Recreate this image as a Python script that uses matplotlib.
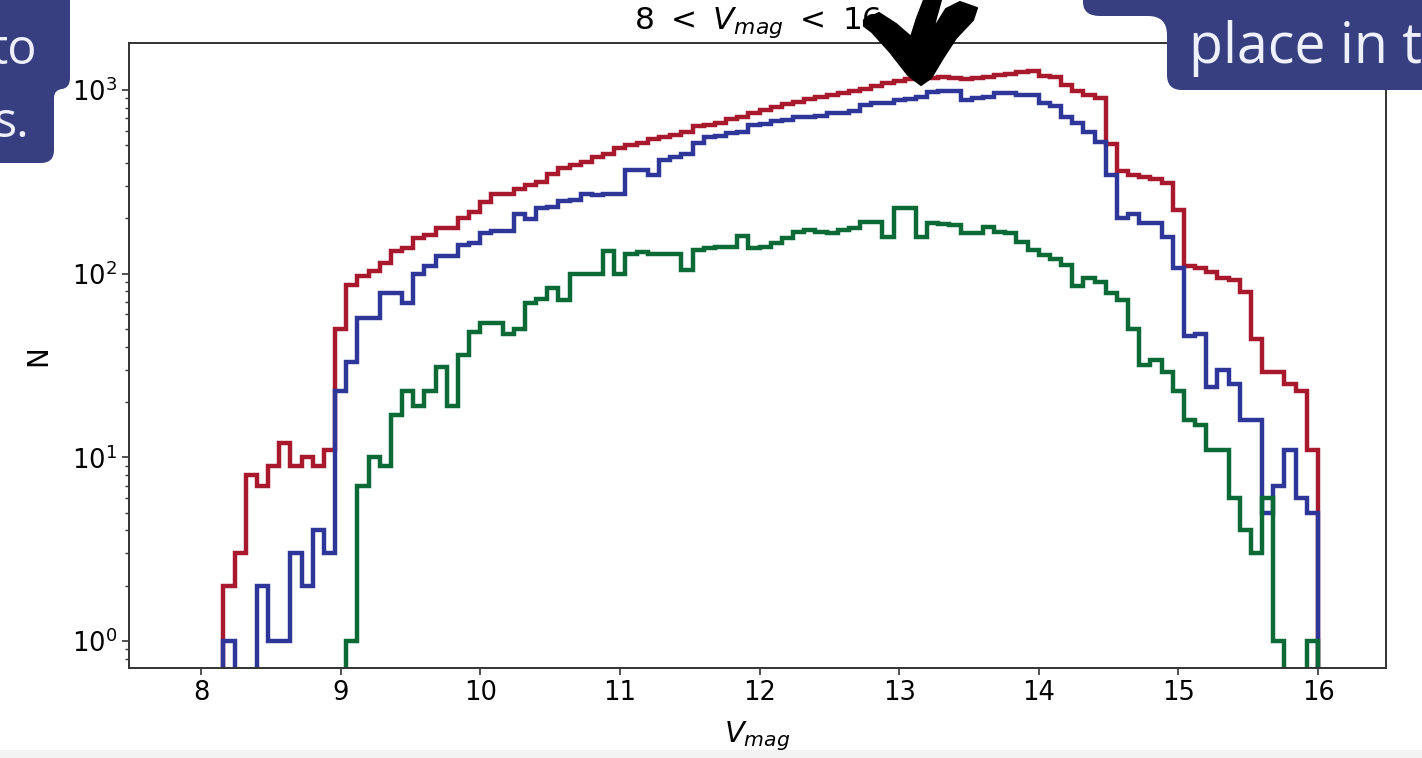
import numpy as np
import matplotlib
matplotlib.use('Agg')
import matplotlib.pyplot as plt
from matplotlib.path import Path
from matplotlib.patches import PathPatch, Polygon, Rectangle

# ---------------- data ----------------
bin_start = 8.0
bin_width = 0.08
n_bins = 100

n_red = [0, 0, 2, 3, 8, 7, 9, 12, 9, 10,
         9, 11, 50, 87, 97, 103, 114, 132, 138, 156,
         162, 176, 178, 201, 216, 245, 272, 270, 290, 305,
         317, 348, 374, 389, 404, 433, 450, 484, 501, 513,
         540, 552, 569, 589, 633, 645, 663, 692, 714, 748,
         778, 805, 838, 860, 890, 916, 940, 962, 986, 1013,
         1046, 1086, 1123, 1142, 1157, 1157, 1181, 1157, 1142, 1157,
         1181, 1206, 1222, 1257, 1273, 1191, 1181, 1060, 990, 935,
         905, 505, 362, 345, 337, 329, 313, 222, 110, 107,
         102, 95, 92, 79, 44, 29, 29, 25, 23, 11]

n_blue = [0, 0, 1, 0, 0, 2, 1, 1, 3, 2,
          4, 3, 23, 33, 57, 57, 78, 78, 69, 99,
          110, 125, 124, 143, 147, 166, 170, 170, 211, 198,
          227, 231, 248, 251, 270, 268, 270, 270, 366, 366,
          344, 415, 433, 446, 512, 556, 561, 580, 592, 645,
          652, 679, 685, 715, 715, 721, 745, 745, 770, 828,
          846, 852, 881, 888, 919, 978, 990, 990, 881, 900,
          919, 966, 958, 938, 938, 846, 815, 715, 660, 590,
          520, 345, 202, 212, 189, 188, 158, 107, 46, 47,
          24, 30, 25, 16, 16, 5, 7, 11, 6, 5]

n_green = [0, 0, 0, 0, 0, 0, 0, 0, 0, 0,
           0, 0, 0, 1, 7, 10, 9, 17, 23, 19,
           23, 31, 19, 36, 48, 54, 54, 47, 50, 69,
           73, 84, 72, 100, 100, 99, 133, 99, 128, 131,
           128, 128, 128, 104, 135, 138, 140, 140, 160, 137,
           139, 146, 157, 169, 172, 168, 166, 173, 176, 192,
           192, 158, 228, 228, 158, 188, 187, 184, 167, 167,
           180, 169, 167, 149, 134, 126, 120, 112, 86, 95,
           90, 78, 72, 50, 32, 34, 29, 23, 16, 15,
           11, 11, 6, 4, 3, 6, 1, 0, 0, 1]

x_ticks = [8, 9, 10, 11, 12, 13, 14, 15, 16]
title_text = r'$8\ <\ V_{mag}\ <\ 16$'
xlabel_text = '$V_{mag}$'
ylabel_text = 'N'
note_left = ['to', 's.']
note_right = 'place in t'

# ---------------- figure ----------------
W, H = 1422, 758
fig = plt.figure(figsize=(W / 100, H / 100), dpi=100)
fig.patch.set_facecolor('white')

ax = fig.add_axes([129 / W, 1 - 668 / H, (1386 - 129) / W, (668 - 43) / H])
edges = bin_start + bin_width * np.arange(n_bins + 1)

lw = 3.2
ax.stairs(n_red, edges, color='#a8192e', lw=lw, baseline=0)
ax.stairs(n_blue, edges, color='#2f369a', lw=lw, baseline=0)
ax.stairs(n_green, edges, color='#0b6a36', lw=lw, baseline=0)

ax.set_yscale('log')
ax.set_xlim(7.484, 16.487)
ax.set_ylim(0.713, 1800)
ax.set_xticks(x_ticks)
ax.tick_params(axis='both', which='major', labelsize=18.5, length=5, width=1.2,
               color='#333333')
ax.tick_params(axis='y', which='minor', length=3, width=1.0, color='#333333')
for s in ax.spines.values():
    s.set_color('#333333')
    s.set_linewidth(1.4)

ax.set_title(title_text, fontsize=22.5, pad=10)
ax.set_xlabel(xlabel_text, fontsize=21, labelpad=10)
ax.set_ylabel(ylabel_text, fontsize=20, labelpad=14)

# ---------------- overlay (pixel coordinates) ----------------
ov = fig.add_axes([0, 0, 1, 1], zorder=10)
ov.set_xlim(0, W)
ov.set_ylim(H, 0)
ov.axis('off')
ov.patch.set_alpha(0)

box_col = '#373f80'
txt_col = '#eef0fb'

# bottom light strip
ov.add_patch(Rectangle((0, 750), W, 8, facecolor='#f3f3f3', edgecolor='none'))

# left note box
verts_l = [(0, 0), (70, 0), (70, 78), (70, 88), (62, 89), (54, 90), (54, 98),
           (54, 150), (54, 163), (41, 163), (0, 163), (0, 0)]
codes_l = [Path.MOVETO, Path.LINETO, Path.LINETO, Path.CURVE3, Path.CURVE3,
           Path.CURVE3, Path.CURVE3, Path.LINETO, Path.CURVE3, Path.CURVE3,
           Path.LINETO, Path.CLOSEPOLY]
ov.add_patch(PathPatch(Path(verts_l, codes_l), facecolor=box_col, edgecolor='none'))
ov.text(37, 64, note_left[0], color=txt_col, fontsize=35, family='Open Sans',
        ha='right', va='baseline')
ov.text(29, 137, note_left[1], color=txt_col, fontsize=35, family='Open Sans',
        ha='right', va='baseline')

# right note box
verts_r = [(1083, 0), (1083, 2), (1083, 16), (1100, 16), (1148, 16), (1167, 16),
           (1167, 35), (1167, 75), (1167, 90), (1182, 90), (1422, 90), (1422, 0),
           (1083, 0)]
codes_r = [Path.MOVETO, Path.LINETO, Path.CURVE3, Path.CURVE3, Path.LINETO,
           Path.CURVE3, Path.CURVE3, Path.LINETO, Path.CURVE3, Path.CURVE3,
           Path.LINETO, Path.LINETO, Path.CLOSEPOLY]
ov.add_patch(PathPatch(Path(verts_r, codes_r), facecolor=box_col, edgecolor='none'))
ov.text(1189, 63, note_right, color=txt_col, fontsize=40, family='Open Sans',
        ha='left', va='baseline', clip_on=False)

# black brush arrow
arrow_pts = [(864, 20), (879, 13), (896, 24), (911, 37), (917, 18),
             (924, 0), (941, 0), (936, 18), (933, 30), (946, 9),
             (960, 2), (977, 8), (973, 20), (956, 38), (943, 58),
             (931, 78), (921, 85), (908, 75), (890, 52), (872, 32),
             (864, 26)]
ov.add_patch(Polygon(arrow_pts, closed=True, facecolor='black', edgecolor='black',
                     lw=1.5, joinstyle='round'))

fig.savefig('out.png', dpi=100)
